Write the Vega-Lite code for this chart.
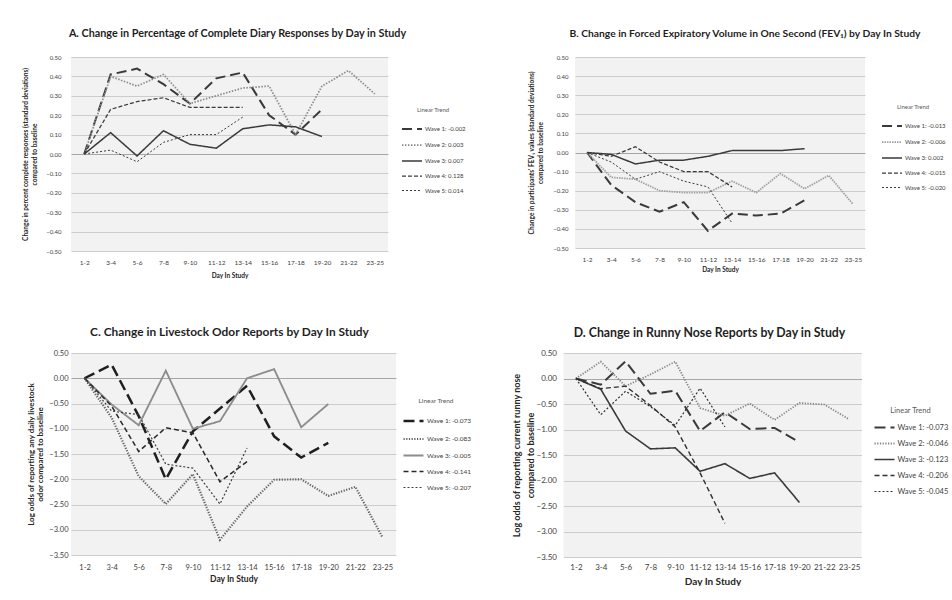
{
 "$schema": "https://vega.github.io/schema/vega-lite/v6.json",
 "background": "white",
 "padding": {"left": 22, "top": 28, "right": 0, "bottom": 0},
 "datasets": {
  "A": [
   {"wave":"Wave 1: -0.002","day":"1-2","value":0},{"wave":"Wave 1: -0.002","day":"3-4","value":0.41},{"wave":"Wave 1: -0.002","day":"5-6","value":0.44},{"wave":"Wave 1: -0.002","day":"7-8","value":0.36},{"wave":"Wave 1: -0.002","day":"9-10","value":0.26},{"wave":"Wave 1: -0.002","day":"11-12","value":0.39},{"wave":"Wave 1: -0.002","day":"13-14","value":0.42},{"wave":"Wave 1: -0.002","day":"15-16","value":0.2},{"wave":"Wave 1: -0.002","day":"17-18","value":0.1},{"wave":"Wave 1: -0.002","day":"19-20","value":0.23},
   {"wave":"Wave 2: 0.003","day":"1-2","value":0},{"wave":"Wave 2: 0.003","day":"3-4","value":0.4},{"wave":"Wave 2: 0.003","day":"5-6","value":0.35},{"wave":"Wave 2: 0.003","day":"7-8","value":0.41},{"wave":"Wave 2: 0.003","day":"9-10","value":0.26},{"wave":"Wave 2: 0.003","day":"11-12","value":0.3},{"wave":"Wave 2: 0.003","day":"13-14","value":0.34},{"wave":"Wave 2: 0.003","day":"15-16","value":0.35},{"wave":"Wave 2: 0.003","day":"17-18","value":0.1},{"wave":"Wave 2: 0.003","day":"19-20","value":0.35},{"wave":"Wave 2: 0.003","day":"21-22","value":0.43},{"wave":"Wave 2: 0.003","day":"23-25","value":0.31},
   {"wave":"Wave 3: 0.007","day":"1-2","value":0},{"wave":"Wave 3: 0.007","day":"3-4","value":0.11},{"wave":"Wave 3: 0.007","day":"5-6","value":-0.01},{"wave":"Wave 3: 0.007","day":"7-8","value":0.12},{"wave":"Wave 3: 0.007","day":"9-10","value":0.05},{"wave":"Wave 3: 0.007","day":"11-12","value":0.03},{"wave":"Wave 3: 0.007","day":"13-14","value":0.13},{"wave":"Wave 3: 0.007","day":"15-16","value":0.15},{"wave":"Wave 3: 0.007","day":"17-18","value":0.14},{"wave":"Wave 3: 0.007","day":"19-20","value":0.09},
   {"wave":"Wave 4: 0.128","day":"1-2","value":0},{"wave":"Wave 4: 0.128","day":"3-4","value":0.23},{"wave":"Wave 4: 0.128","day":"5-6","value":0.27},{"wave":"Wave 4: 0.128","day":"7-8","value":0.29},{"wave":"Wave 4: 0.128","day":"9-10","value":0.24},{"wave":"Wave 4: 0.128","day":"11-12","value":0.24},{"wave":"Wave 4: 0.128","day":"13-14","value":0.24},
   {"wave":"Wave 5: 0.014","day":"1-2","value":0},{"wave":"Wave 5: 0.014","day":"3-4","value":0.02},{"wave":"Wave 5: 0.014","day":"5-6","value":-0.04},{"wave":"Wave 5: 0.014","day":"7-8","value":0.06},{"wave":"Wave 5: 0.014","day":"9-10","value":0.1},{"wave":"Wave 5: 0.014","day":"11-12","value":0.1},{"wave":"Wave 5: 0.014","day":"13-14","value":0.19}
  ],
  "B": [
   {"wave":"Wave 1: -0.013","day":"1-2","value":0},{"wave":"Wave 1: -0.013","day":"3-4","value":-0.17},{"wave":"Wave 1: -0.013","day":"5-6","value":-0.26},{"wave":"Wave 1: -0.013","day":"7-8","value":-0.31},{"wave":"Wave 1: -0.013","day":"9-10","value":-0.26},{"wave":"Wave 1: -0.013","day":"11-12","value":-0.41},{"wave":"Wave 1: -0.013","day":"13-14","value":-0.32},{"wave":"Wave 1: -0.013","day":"15-16","value":-0.33},{"wave":"Wave 1: -0.013","day":"17-18","value":-0.32},{"wave":"Wave 1: -0.013","day":"19-20","value":-0.25},
   {"wave":"Wave 2: -0.006","day":"1-2","value":0},{"wave":"Wave 2: -0.006","day":"3-4","value":-0.13},{"wave":"Wave 2: -0.006","day":"5-6","value":-0.14},{"wave":"Wave 2: -0.006","day":"7-8","value":-0.2},{"wave":"Wave 2: -0.006","day":"9-10","value":-0.21},{"wave":"Wave 2: -0.006","day":"11-12","value":-0.21},{"wave":"Wave 2: -0.006","day":"13-14","value":-0.15},{"wave":"Wave 2: -0.006","day":"15-16","value":-0.21},{"wave":"Wave 2: -0.006","day":"17-18","value":-0.11},{"wave":"Wave 2: -0.006","day":"19-20","value":-0.19},{"wave":"Wave 2: -0.006","day":"21-22","value":-0.12},{"wave":"Wave 2: -0.006","day":"23-25","value":-0.27},
   {"wave":"Wave 3: 0.002","day":"1-2","value":0},{"wave":"Wave 3: 0.002","day":"3-4","value":-0.01},{"wave":"Wave 3: 0.002","day":"5-6","value":-0.06},{"wave":"Wave 3: 0.002","day":"7-8","value":-0.04},{"wave":"Wave 3: 0.002","day":"9-10","value":-0.04},{"wave":"Wave 3: 0.002","day":"11-12","value":-0.02},{"wave":"Wave 3: 0.002","day":"13-14","value":0.01},{"wave":"Wave 3: 0.002","day":"15-16","value":0.01},{"wave":"Wave 3: 0.002","day":"17-18","value":0.01},{"wave":"Wave 3: 0.002","day":"19-20","value":0.02},
   {"wave":"Wave 4: -0.015","day":"1-2","value":0},{"wave":"Wave 4: -0.015","day":"3-4","value":-0.02},{"wave":"Wave 4: -0.015","day":"5-6","value":0.03},{"wave":"Wave 4: -0.015","day":"7-8","value":-0.05},{"wave":"Wave 4: -0.015","day":"9-10","value":-0.1},{"wave":"Wave 4: -0.015","day":"11-12","value":-0.1},{"wave":"Wave 4: -0.015","day":"13-14","value":-0.18},
   {"wave":"Wave 5: -0.020","day":"1-2","value":0},{"wave":"Wave 5: -0.020","day":"3-4","value":-0.05},{"wave":"Wave 5: -0.020","day":"5-6","value":-0.14},{"wave":"Wave 5: -0.020","day":"7-8","value":-0.1},{"wave":"Wave 5: -0.020","day":"9-10","value":-0.15},{"wave":"Wave 5: -0.020","day":"11-12","value":-0.18},{"wave":"Wave 5: -0.020","day":"13-14","value":-0.37}
  ],
  "C": [
   {"wave":"Wave 1: -0.073","day":"1-2","value":0},{"wave":"Wave 1: -0.073","day":"3-4","value":0.27},{"wave":"Wave 1: -0.073","day":"5-6","value":-0.75},{"wave":"Wave 1: -0.073","day":"7-8","value":-2.0},{"wave":"Wave 1: -0.073","day":"9-10","value":-1.05},{"wave":"Wave 1: -0.073","day":"11-12","value":-0.6},{"wave":"Wave 1: -0.073","day":"13-14","value":-0.15},{"wave":"Wave 1: -0.073","day":"15-16","value":-1.15},{"wave":"Wave 1: -0.073","day":"17-18","value":-1.57},{"wave":"Wave 1: -0.073","day":"19-20","value":-1.28},
   {"wave":"Wave 2: -0.083","day":"1-2","value":0},{"wave":"Wave 2: -0.083","day":"3-4","value":-0.78},{"wave":"Wave 2: -0.083","day":"5-6","value":-1.94},{"wave":"Wave 2: -0.083","day":"7-8","value":-2.49},{"wave":"Wave 2: -0.083","day":"9-10","value":-1.9},{"wave":"Wave 2: -0.083","day":"11-12","value":-3.2},{"wave":"Wave 2: -0.083","day":"13-14","value":-2.54},{"wave":"Wave 2: -0.083","day":"15-16","value":-2.01},{"wave":"Wave 2: -0.083","day":"17-18","value":-2.0},{"wave":"Wave 2: -0.083","day":"19-20","value":-2.33},{"wave":"Wave 2: -0.083","day":"21-22","value":-2.15},{"wave":"Wave 2: -0.083","day":"23-25","value":-3.15},
   {"wave":"Wave 3: -0.005","day":"1-2","value":0},{"wave":"Wave 3: -0.005","day":"3-4","value":-0.52},{"wave":"Wave 3: -0.005","day":"5-6","value":-0.93},{"wave":"Wave 3: -0.005","day":"7-8","value":0.15},{"wave":"Wave 3: -0.005","day":"9-10","value":-1.0},{"wave":"Wave 3: -0.005","day":"11-12","value":-0.85},{"wave":"Wave 3: -0.005","day":"13-14","value":0},{"wave":"Wave 3: -0.005","day":"15-16","value":0.18},{"wave":"Wave 3: -0.005","day":"17-18","value":-0.97},{"wave":"Wave 3: -0.005","day":"19-20","value":-0.51},
   {"wave":"Wave 4: -0.141","day":"1-2","value":0},{"wave":"Wave 4: -0.141","day":"3-4","value":-0.55},{"wave":"Wave 4: -0.141","day":"5-6","value":-1.45},{"wave":"Wave 4: -0.141","day":"7-8","value":-0.98},{"wave":"Wave 4: -0.141","day":"9-10","value":-1.08},{"wave":"Wave 4: -0.141","day":"11-12","value":-2.05},{"wave":"Wave 4: -0.141","day":"13-14","value":-1.65},
   {"wave":"Wave 5: -0.207","day":"1-2","value":0},{"wave":"Wave 5: -0.207","day":"3-4","value":-0.65},{"wave":"Wave 5: -0.207","day":"5-6","value":-0.72},{"wave":"Wave 5: -0.207","day":"7-8","value":-1.7},{"wave":"Wave 5: -0.207","day":"9-10","value":-1.78},{"wave":"Wave 5: -0.207","day":"11-12","value":-2.49},{"wave":"Wave 5: -0.207","day":"13-14","value":-1.38}
  ],
  "D": [
   {"wave":"Wave 1: -0.073","day":"1-2","value":0},{"wave":"Wave 1: -0.073","day":"3-4","value":-0.12},{"wave":"Wave 1: -0.073","day":"5-6","value":0.34},{"wave":"Wave 1: -0.073","day":"7-8","value":-0.3},{"wave":"Wave 1: -0.073","day":"9-10","value":-0.24},{"wave":"Wave 1: -0.073","day":"11-12","value":-1.03},{"wave":"Wave 1: -0.073","day":"13-14","value":-0.66},{"wave":"Wave 1: -0.073","day":"15-16","value":-0.99},{"wave":"Wave 1: -0.073","day":"17-18","value":-0.97},{"wave":"Wave 1: -0.073","day":"19-20","value":-1.25},
   {"wave":"Wave 2: -0.046","day":"1-2","value":0},{"wave":"Wave 2: -0.046","day":"3-4","value":0.33},{"wave":"Wave 2: -0.046","day":"5-6","value":-0.15},{"wave":"Wave 2: -0.046","day":"7-8","value":0.08},{"wave":"Wave 2: -0.046","day":"9-10","value":0.33},{"wave":"Wave 2: -0.046","day":"11-12","value":-0.58},{"wave":"Wave 2: -0.046","day":"13-14","value":-0.73},{"wave":"Wave 2: -0.046","day":"15-16","value":-0.49},{"wave":"Wave 2: -0.046","day":"17-18","value":-0.81},{"wave":"Wave 2: -0.046","day":"19-20","value":-0.48},{"wave":"Wave 2: -0.046","day":"21-22","value":-0.51},{"wave":"Wave 2: -0.046","day":"23-25","value":-0.8},
   {"wave":"Wave 3: -0.123","day":"1-2","value":0},{"wave":"Wave 3: -0.123","day":"3-4","value":-0.21},{"wave":"Wave 3: -0.123","day":"5-6","value":-1.03},{"wave":"Wave 3: -0.123","day":"7-8","value":-1.38},{"wave":"Wave 3: -0.123","day":"9-10","value":-1.36},{"wave":"Wave 3: -0.123","day":"11-12","value":-1.82},{"wave":"Wave 3: -0.123","day":"13-14","value":-1.67},{"wave":"Wave 3: -0.123","day":"15-16","value":-1.96},{"wave":"Wave 3: -0.123","day":"17-18","value":-1.85},{"wave":"Wave 3: -0.123","day":"19-20","value":-2.43},
   {"wave":"Wave 4: -0.206","day":"1-2","value":0},{"wave":"Wave 4: -0.206","day":"3-4","value":-0.2},{"wave":"Wave 4: -0.206","day":"5-6","value":-0.15},{"wave":"Wave 4: -0.206","day":"7-8","value":-0.53},{"wave":"Wave 4: -0.206","day":"9-10","value":-0.95},{"wave":"Wave 4: -0.206","day":"11-12","value":-1.85},{"wave":"Wave 4: -0.206","day":"13-14","value":-2.84},
   {"wave":"Wave 5: -0.045","day":"1-2","value":0},{"wave":"Wave 5: -0.045","day":"3-4","value":-0.71},{"wave":"Wave 5: -0.045","day":"5-6","value":-0.25},{"wave":"Wave 5: -0.045","day":"7-8","value":-0.55},{"wave":"Wave 5: -0.045","day":"9-10","value":-0.92},{"wave":"Wave 5: -0.045","day":"11-12","value":-0.19},{"wave":"Wave 5: -0.045","day":"13-14","value":-0.95}
  ]
 },
 "config": {
  "font": "Lato",
  "view": {"fill": "#f2f2f2", "stroke": null},
  "title": {"fontWeight": "bold", "color": "#1f1f1f", "anchor": "middle"},
  "axis": {"labelColor": "#404040", "titleColor": "#262626", "titleFontWeight": "bold", "ticks": false, "tickSize": 0, "domain": false,
           "gridColor": {"condition": {"test": "datum.value === 0", "value": "#a6a6a6"}, "value": "#cccccc"}},
  "axisX": {"grid": false, "labelAngle": 0},
  "legend": {"orient": "none", "titleFontWeight": "normal", "titleColor": "#595959", "titleAnchor": "middle", "labelColor": "#404040", "symbolType": "stroke", "symbolSize": 400, "rowPadding": 1, "labelOffset": 2}
 },
 "spacing": 47,
 "resolve": {"scale": {"color": "independent", "strokeDash": "independent", "strokeWidth": "independent"}},
 "vconcat": [
  {
   "spacing": 62,
   "resolve": {"scale": {"color": "independent", "strokeDash": "independent", "strokeWidth": "independent"}},
   "hconcat": [
    {
     "width": 317, "height": 194,
     "data": {"name": "A"},
     "title": {"text": "A. Change in Percentage of Complete Diary Responses by Day in Study", "fontSize": 10.8, "offset": 15, "dx": 8},
     "mark": {"type": "line", "strokeCap": "butt"},
     "encoding": {
      "x": {"field": "day", "type": "ordinal", "scale": {"type": "point", "padding": 0.5, "domain": ["1-2","3-4","5-6","7-8","9-10","11-12","13-14","15-16","17-18","19-20","21-22","23-25"]},
            "axis": {"title": "Day In Study", "labelFontSize": 6.5, "titleFontSize": 6.5, "labelPadding": 8, "titlePadding": 7}},
      "y": {"field": "value", "type": "quantitative", "scale": {"domain": [-0.5, 0.5], "nice": false},
            "axis": {"title": ["Change in percent complete responses (standard deviations)", "compared to baseline"], "values": [-0.5,-0.4,-0.3,-0.2,-0.1,0,0.1,0.2,0.3,0.4,0.5], "format": ".2f", "labelFontSize": 6, "titleFontSize": 6.5, "labelPadding": 10, "titlePadding": 8.5, "titleLineHeight": 9}},
      "color": {"field": "wave", "type": "ordinal", "scale": {"range": ["#3a3a3a","#8c8c8c","#3a3a3a","#3a3a3a","#3a3a3a"]},
                "legend": {"title": "Linear Trend", "legendX": 330, "legendY": 50, "titleFontSize": 6, "labelFontSize": 6}},
      "strokeDash": {"field": "wave", "type": "ordinal", "scale": {"range": [[10,5],[1.5,1.5],[1,0],[4,2],[2,2]]}},
      "strokeWidth": {"field": "wave", "type": "ordinal", "scale": {"range": [2,1,1.5,2,2]}}
     }
    },
    {
     "width": 290, "height": 191,
     "data": {"name": "B"},
     "title": {"text": "B. Change in Forced Expiratory Volume in One Second (FEV₁) by Day In Study", "fontSize": 10.3, "offset": 15, "dx": 25},
     "mark": {"type": "line", "strokeCap": "butt"},
     "encoding": {
      "x": {"field": "day", "type": "ordinal", "scale": {"type": "point", "padding": 0.5, "domain": ["1-2","3-4","5-6","7-8","9-10","11-12","13-14","15-16","17-18","19-20","21-22","23-25"]},
            "axis": {"title": "Day In Study", "labelFontSize": 6.5, "titleFontSize": 6.5, "labelPadding": 8, "titlePadding": 4}},
      "y": {"field": "value", "type": "quantitative", "scale": {"domain": [-0.5, 0.5], "nice": false},
            "axis": {"title": ["Change in participants' FEV₁ values (standard deviations)", "compared to baseline"], "values": [-0.5,-0.4,-0.3,-0.2,-0.1,0,0.1,0.2,0.3,0.4,0.5], "format": ".2f", "labelFontSize": 6, "titleFontSize": 6.5, "labelPadding": 7, "titlePadding": 9.5, "titleLineHeight": 9}},
      "color": {"field": "wave", "type": "ordinal", "scale": {"range": ["#3a3a3a","#a0a0a0","#3a3a3a","#3a3a3a","#3a3a3a"]},
                "legend": {"title": "Linear Trend", "legendX": 306, "legendY": 47, "titleFontSize": 6, "labelFontSize": 6}},
      "strokeDash": {"field": "wave", "type": "ordinal", "scale": {"range": [[10,5],[1.5,1],[1,0],[4,2],[2,2]]}},
      "strokeWidth": {"field": "wave", "type": "ordinal", "scale": {"range": [2,1,1.5,2,2]}}
     }
    }
   ]
  },
  {
   "spacing": 41.5,
   "resolve": {"scale": {"color": "independent", "strokeDash": "independent", "strokeWidth": "independent"}},
   "hconcat": [
    {
     "width": 325, "height": 202,
     "data": {"name": "C"},
     "title": {"text": "C. Change in Livestock Odor Reports by Day In Study", "fontSize": 11.9, "offset": 10, "dx": -4},
     "mark": {"type": "line", "strokeCap": "butt"},
     "encoding": {
      "x": {"field": "day", "type": "ordinal", "scale": {"type": "point", "padding": 0.5, "domain": ["1-2","3-4","5-6","7-8","9-10","11-12","13-14","15-16","17-18","19-20","21-22","23-25"]},
            "axis": {"title": "Day In Study", "labelFontSize": 7.5, "titleFontSize": 8.5, "labelPadding": 8, "titlePadding": 4}},
      "y": {"field": "value", "type": "quantitative", "scale": {"domain": [-3.5, 0.5], "nice": false},
            "axis": {"title": ["Log odds of reporting any daily livestock", "odor compared to baseline"], "values": [-3.5,-3,-2.5,-2,-1.5,-1,-0.5,0,0.5], "format": ".2f", "labelFontSize": 7.5, "titleFontSize": 8, "labelPadding": 3, "titlePadding": 4.5, "titleLineHeight": 8.5}},
      "color": {"field": "wave", "type": "ordinal", "scale": {"range": ["#1f1f1f","#606060","#8c8c8c","#2a2a2a","#404040"]},
                "legend": {"title": "Linear Trend", "legendX": 331, "legendY": 45, "titleFontSize": 6.5, "labelFontSize": 6.5}},
      "strokeDash": {"field": "wave", "type": "ordinal", "scale": {"range": [[11,5],[1.2,1.5],[1,0],[5,3],[2,2]]}},
      "strokeWidth": {"field": "wave", "type": "ordinal", "scale": {"range": [2.5,1.2,1.2,2,2.5]}}
     }
    },
    {
     "width": 298, "height": 204,
     "data": {"name": "D"},
     "title": {"text": "D. Change in Runny Nose Reports by Day in Study", "fontSize": 12.3, "offset": 10, "dx": -3},
     "mark": {"type": "line", "strokeCap": "butt"},
     "encoding": {
      "x": {"field": "day", "type": "ordinal", "scale": {"type": "point", "padding": 0.5, "domain": ["1-2","3-4","5-6","7-8","9-10","11-12","13-14","15-16","17-18","19-20","21-22","23-25"]},
            "axis": {"title": "Day In Study", "labelFontSize": 8, "titleFontSize": 10, "labelPadding": 6, "titlePadding": 5}},
      "y": {"field": "value", "type": "quantitative", "scale": {"domain": [-3.5, 0.5], "nice": false},
            "axis": {"title": ["Log odds of reporting current runny nose", "compared to baseline"], "values": [-3.5,-3,-2.5,-2,-1.5,-1,-0.5,0,0.5], "format": ".2f", "labelFontSize": 8, "titleFontSize": 9, "labelPadding": 7, "titlePadding": 1, "titleLineHeight": 13.5}},
      "color": {"field": "wave", "type": "ordinal", "scale": {"range": ["#3a3a3a","#808080","#3a3a3a","#303030","#303030"]},
                "legend": {"title": "Linear Trend", "legendX": 310, "legendY": 54, "titleFontSize": 7.5, "labelFontSize": 7.5, "titlePadding": 2}},
      "strokeDash": {"field": "wave", "type": "ordinal", "scale": {"range": [[11,5],[1.2,1.5],[1,0],[5,3],[2,2]]}},
      "strokeWidth": {"field": "wave", "type": "ordinal", "scale": {"range": [2,1.2,1.5,2,2.5]}}
     }
    }
   ]
  }
 ]
}
